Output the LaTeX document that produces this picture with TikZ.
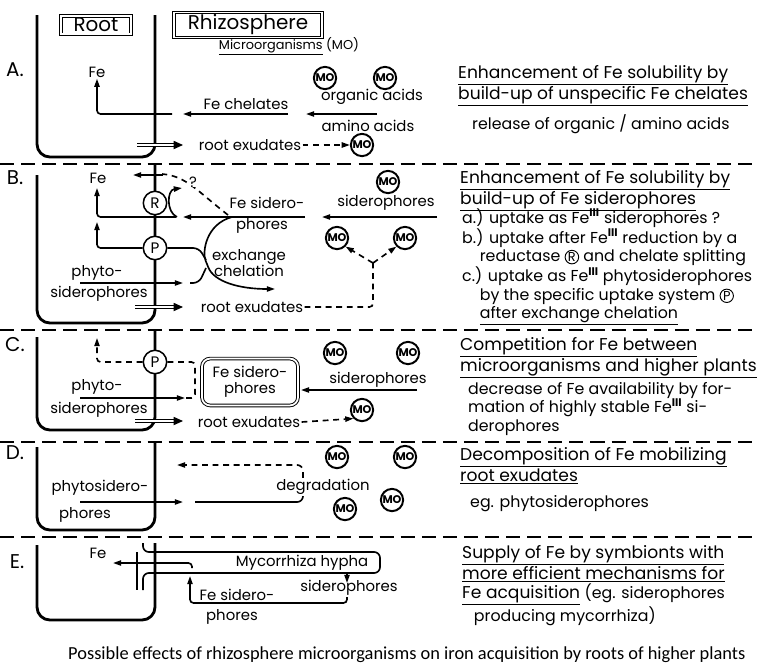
\documentclass[tikz,border=0pt]{standalone}
\usepackage{fontspec}
\usepackage{tikz}
\usetikzlibrary{arrows.meta,positioning}
\newfontfamily\lettering{Poppins}
\newfontfamily\capfont{Carlito}
\newcommand{\ringed}[1]{\tikz[baseline=(ring.base)]\node[circle,draw,line width=.8pt,inner sep=.5pt,font=\lettering\fontsize{11}{11}\selectfont](ring){#1};}
\newcommand{\feiii}{Fe\textsuperscript{\bfseries III}}

\begin{document}
\begin{tikzpicture}[x=0.03cm, y=-0.03cm,
  lab/.style={font=\lettering\fontsize{12.7}{14}\selectfont, inner sep=1pt, align=center},
  sec/.style={font=\lettering\fontsize{17}{17}\selectfont, inner sep=1pt},
  head/.style={font=\lettering\fontsize{14.6}{16.3}\selectfont, anchor=north west, inner sep=0pt, align=left},
  body/.style={font=\lettering\fontsize{13.5}{15.8}\selectfont, anchor=north west, inner sep=0pt, align=left},
  title/.style={draw, double, double distance=1.6pt, line width=.8pt, inner sep=2pt, minimum height=15pt, font=\lettering\fontsize{17}{17}\selectfont},
  wall/.style={line width=2.4pt, rounded corners=11pt},
  pipe/.style={line width=1.4pt, rounded corners=3pt},
  flow/.style={pipe, -{Triangle[length=7pt,width=4.5pt]}},
  dpipe/.style={pipe, dash pattern=on 5pt off 4pt},
  dflow/.style={flow, dash pattern=on 5pt off 4pt},
  exud/.style={double, line width=.9pt, double distance=2pt, -{Triangle[length=8pt,width=7pt]}},
  sep/.style={line width=1.6pt, dash pattern=on 12pt off 6pt},
  mo/.style={circle, draw, line width=1.7pt, fill=white, inner sep=0pt, minimum size=19pt, font=\lettering\bfseries\fontsize{9.5}{9.5}\selectfont},
  enz/.style={circle, draw, line width=1.3pt, fill=white, inner sep=0pt, minimum size=20pt, font=\lettering\fontsize{13}{13}\selectfont},
  sidbox/.style={draw, double, double distance=1.5pt, line width=.8pt, rounded corners=7pt, minimum width=82pt, minimum height=40pt, lab}]
\useasboundingbox (0,0) rectangle (757,664);

\node[title, minimum width=60pt] (root) at (96,25) {Root};
\node[title, minimum width=126pt] (rhizo) at (248,25) {Rhizosphere};
\node[lab, font=\lettering\fontsize{11}{13}\selectfont] (micro) at (289,46) {\underline{Microorganisms} (MO)};

\draw[sep] (0,164) -- (757,164);
\draw[sep] (0,330) -- (757,330);
\draw[sep] (0,442) -- (757,442);
\draw[sep] (0,537) -- (757,537);

% A
\draw[wall] (37,15) -- (37,157) -- (155,157) -- (155,15);
\node[sec] (secA) at (15,70) {A.};
\node[lab] (feA) at (97,72) {Fe};
\node[mo] (moA1) at (325,78) {MO};
\node[mo] (moA2) at (385,78) {MO};
\node[mo] (moA3) at (362,145) {MO};
\node[lab] (orgA) at (372,97) {organic acids};
\node[lab] (amiA) at (368,126) {amino acids};
\node[lab] (chelA) at (246,104) {Fe chelates};
\node[lab] (exA) at (250,145) {root exudates};
\draw[flow] (377,114) -- (306,114);
\draw[flow] (288,114) -- (183,114);
\draw[flow] (172,114) -- (97,114) -- (feA.south);
\draw[exud] (137,145) -- (183,145);
\draw[dflow] (exA.east) -- (moA3.west);

% B
\draw[wall] (37,175) -- (37,323) -- (155,323) -- (155,165);
\node[sec] (secB) at (15,178) {B.};
\node[lab] (feB) at (98,178) {Fe};
\node[lab] (fesB1) at (267,203) {Fe sidero-};
\node[lab] (fesB2) at (262,226) {phores};
\node[mo] (moB1) at (388,182) {MO};
\node[lab] (sidB) at (386,203) {siderophores};
\node[mo] (moB2) at (337,238) {MO};
\node[mo] (moB3) at (405,238) {MO};
\node[lab] (exchB) at (249,263) {exchange\\chelation};
\node[lab] (phyB1) at (97,273) {phyto-};
\node[lab] (phyB2) at (99,294) {siderophores};
\node[lab] (exB) at (252,307) {root exudates};
\draw[flow] (437,217) -- (322,217);
\draw[flow] (305,217) -- (183,217);
\draw[flow] (176,217) -- (97,217) -- (97,188);
\draw[flow] (177,217) .. controls (166,212) and (167,190) .. (182,188);
\draw[dpipe] (228,215) .. controls (196,190) and (186,176) .. (162,174);
\draw[flow] (163,175) -- (133,175);
\node[lab, fill=white, inner sep=0pt] (qB) at (193,182) {?};
\node[enz] (R) at (155,203) {R};
\node[enz] (P) at (155,248) {P};
\draw[flow] (P.west) -- (97,248) -- (97,222);
\draw[pipe, rounded corners=5pt] (P.east) -- (199,248) -- (206,260);
\draw[flow] (232,217) .. controls (206,224) and (202,252) .. (207,264) .. controls (214,282) and (240,289) .. (275,289);
\draw[flow] (80,283) -- (183,283);
\draw[pipe, rounded corners=5pt] (190,283) -- (199,283) -- (206,268);
\draw[exud] (135,307) -- (183,307);
\draw[dpipe] (exB.east) -- (373,307) -- (373,263);
\draw[dflow] (373,263) -- (moB2.south east);
\draw[dflow] (373,263) -- (moB3.south west);

% C
\draw[wall] (37,337) -- (37,430) -- (155,430) -- (155,331);
\node[sec] (secC) at (15,345) {C.};
\node[enz] (Pc) at (155,362) {P};
\node[lab] (phyC1) at (97,387) {phyto-};
\node[lab] (phyC2) at (99,410) {siderophores};
\node[sidbox] (fesC) at (250,382) {Fe sidero-\\phores};
\node[mo] (moC1) at (335,353) {MO};
\node[mo] (moC2) at (408,353) {MO};
\node[mo] (moC3) at (362,410) {MO};
\node[lab] (sidC) at (378,380) {siderophores};
\node[lab] (exC) at (249,422) {root exudates};
\draw[dflow] (Pc.west) -- (97,362) -- (97,338);
\draw[dpipe] (Pc.east) -- (195,362) -- (195,398) -- (186,398);
\draw[flow] (80,398) -- (185,398);
\draw[flow] (417,390) -- (301,390);
\draw[exud] (135,421) -- (183,421);
\draw[dflow] (exC.east) -- (moC3.south west);

% D
\draw[wall] (37,447) -- (37,530) -- (155,530) -- (155,443);
\node[sec] (secD) at (15,453) {D.};
\node[lab] (phyD1) at (100,488) {phytosidero-};
\node[lab] (phyD2) at (85,515) {phores};
\node[lab] (degD) at (323,487) {degradation};
\node[mo] (moD1) at (337,457) {MO};
\node[mo] (moD2) at (405,457) {MO};
\node[mo] (moD3) at (392,500) {MO};
\node[mo] (moD4) at (345,509) {MO};
\draw[flow] (80,502) -- (183,502);
\draw[pipe, rounded corners=5pt] (195,502) -- (303,502) -- (degD.south -| 303,502);
\draw[dflow, rounded corners=5pt] (degD.north -| 303,465) -- (303,465) -- (177,465);

% E
\draw[wall] (37,545) -- (37,620) -- (155,620) -- (155,543);
\node[sec] (secE) at (17,562) {E.};
\node[lab] (feE) at (98,553) {Fe};
\draw[pipe, rounded corners=5pt] (143,543) -- (143,552) -- (380,552) -- (380,573) -- (143,573) -- (143,590);
\draw[pipe] (137,552) -- (137,590);
\node[lab] (hypE) at (302,563) {Mycorrhiza hypha};
\node[lab] (sidE) at (349,588) {siderophores};
\node[lab] (fesE1) at (237,595) {Fe sidero-};
\node[lab] (fesE2) at (232,617) {phores};
\draw[flow] (192,568) -- (192,563) -- (113,563);
\draw[flow] (347,573) -- (347,583);
\draw[flow] (347,597) -- (347,603) -- (190,603) -- (190,576);

% right column
\node[head] (hA) at (458,65) {\underline{Enhancement of Fe solubility by}\\\underline{build-up of unspecific Fe chelates}};
\node[body] (tA) at (472,114) {release of organic / amino acids};
\node[head] (hB) at (460,170) {\underline{Enhancement of Fe solubility by}\\\underline{build-up of Fe siderophores}};
\node[body] (tB) at (462,208) {a.) uptake as \feiii{} siderophores ?\\
  b.) uptake after \feiii{} reduction by a\\
  \hspace*{15pt}reductase \ringed{R} and chelate splitting\\
  c.) uptake as \feiii{} phytosiderophores\\
  \hspace*{15pt}by the specific uptake system \ringed{P}\\
  \hspace*{15pt}\underline{after exchange chelation}};
\node[head] (hC) at (460,337) {\underline{Competition for Fe between}\\\underline{microorganisms and higher plants}};
\node[body] (tC) at (468,382) {decrease of Fe availability by for-\\mation of highly stable \feiii{} si-\\derophores};
\node[head] (hD) at (460,447) {\underline{Decomposition of Fe mobilizing}\\\underline{root exudates}};
\node[body] (tD) at (470,495) {eg. phytosiderophores};
\node[head] (hE) at (462,545) {\underline{Supply of Fe by symbionts with}\\\underline{more efficient mechanisms for}\\\underline{Fe acquisition} {\fontsize{13.5}{15}\selectfont (eg. siderophores}\\\hspace*{10pt}{\fontsize{13.5}{15}\selectfont producing mycorrhiza)}};

\node[anchor=west, inner sep=0pt, font=\capfont\fontsize{15.7}{16}\selectfont] (cap) at (68,655) {Possible effects of rhizosphere microorganisms on iron acquisition by roots of higher plants};
\end{tikzpicture}
\end{document}
